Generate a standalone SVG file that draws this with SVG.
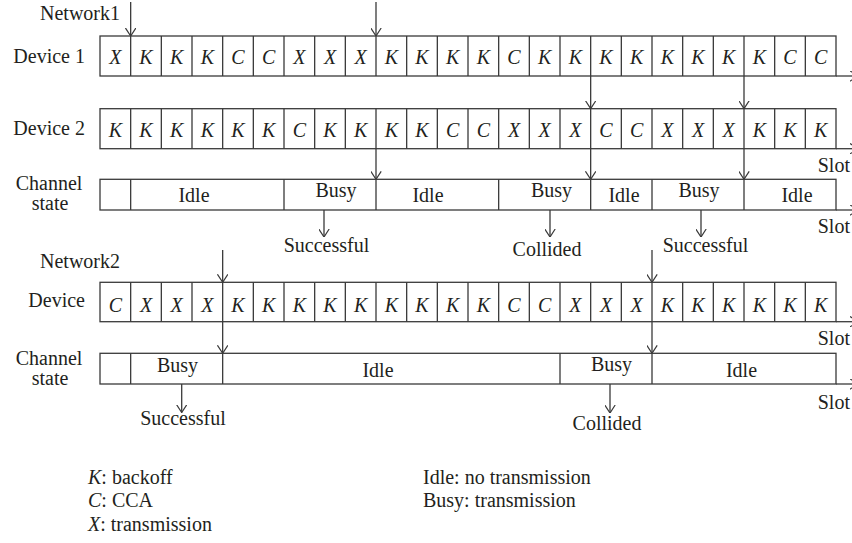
<svg xmlns="http://www.w3.org/2000/svg" width="852" height="543" viewBox="0 0 852 543">
<defs>
<marker id="arr" viewBox="0 0 8 11" refX="8" refY="5.5" markerWidth="8" markerHeight="11" markerUnits="userSpaceOnUse" orient="auto">
<path d="M0,0.3 L8,5.5 L0,10.7" fill="none" stroke="#3a3a3a" stroke-width="1.2"/>
</marker>
</defs>
<style>
text{font-family:"Liberation Serif","Times New Roman",serif;font-size:20px;fill:#231f20}
.c{text-anchor:middle;font-style:italic}
.m{text-anchor:middle}
.e{text-anchor:end}
.box{fill:#fff;stroke:#3a3a3a;stroke-width:1.3}
.div{stroke:#3a3a3a;stroke-width:1.3}
.con line{stroke:#3a3a3a;stroke-width:1.3;marker-end:url(#arr)}
</style>
<rect width="852" height="543" fill="#fff"/>

<g id="network1-label"><text x="40" y="20">Network1</text></g>

<g id="device1">
<text class="e" x="85" y="63">Device 1</text>
<rect class="box" x="100" y="36" width="736" height="40"/>
<path class="div" d="M130.67,36V76M161.33,36V76M192,36V76M222.67,36V76M253.33,36V76M284,36V76M314.67,36V76M345.33,36V76M376,36V76M406.67,36V76M437.33,36V76M468,36V76M498.67,36V76M529.33,36V76M560,36V76M590.67,36V76M621.33,36V76M652,36V76M682.67,36V76M713.33,36V76M744,36V76M774.67,36V76M805.33,36V76"/>
<g transform="translate(0,64)">
<text class="c" x="115.33">X</text><text class="c" x="146">K</text><text class="c" x="176.67">K</text><text class="c" x="207.33">K</text><text class="c" x="238">C</text><text class="c" x="268.67">C</text><text class="c" x="299.33">X</text><text class="c" x="330">X</text><text class="c" x="360.67">X</text><text class="c" x="391.33">K</text><text class="c" x="422">K</text><text class="c" x="452.67">K</text><text class="c" x="483.33">K</text><text class="c" x="514">C</text><text class="c" x="544.67">K</text><text class="c" x="575.33">K</text><text class="c" x="606">K</text><text class="c" x="636.67">K</text><text class="c" x="667.33">K</text><text class="c" x="698">K</text><text class="c" x="728.67">K</text><text class="c" x="759.33">K</text><text class="c" x="790">C</text><text class="c" x="820.67">C</text>
</g>
</g>

<g id="device2">
<text class="e" x="85" y="135">Device 2</text>
<rect class="box" x="100" y="108.7" width="736" height="40"/>
<path class="div" d="M130.67,108.7v40M161.33,108.7v40M192,108.7v40M222.67,108.7v40M253.33,108.7v40M284,108.7v40M314.67,108.7v40M345.33,108.7v40M376,108.7v40M406.67,108.7v40M437.33,108.7v40M468,108.7v40M498.67,108.7v40M529.33,108.7v40M560,108.7v40M590.67,108.7v40M621.33,108.7v40M652,108.7v40M682.67,108.7v40M713.33,108.7v40M744,108.7v40M774.67,108.7v40M805.33,108.7v40"/>
<g transform="translate(0,136.7)">
<text class="c" x="115.33">K</text><text class="c" x="146">K</text><text class="c" x="176.67">K</text><text class="c" x="207.33">K</text><text class="c" x="238">K</text><text class="c" x="268.67">K</text><text class="c" x="299.33">C</text><text class="c" x="330">K</text><text class="c" x="360.67">K</text><text class="c" x="391.33">K</text><text class="c" x="422">K</text><text class="c" x="452.67">C</text><text class="c" x="483.33">C</text><text class="c" x="514">X</text><text class="c" x="544.67">X</text><text class="c" x="575.33">X</text><text class="c" x="606">C</text><text class="c" x="636.67">C</text><text class="c" x="667.33">X</text><text class="c" x="698">X</text><text class="c" x="728.67">X</text><text class="c" x="759.33">K</text><text class="c" x="790">K</text><text class="c" x="820.67">K</text>
</g>
<text class="e" x="850" y="172">Slot</text>
</g>

<g id="channel1">
<text class="m" x="49" y="190">Channel</text>
<text class="m" x="50" y="210">state</text>
<rect class="box" x="100" y="179.3" width="736" height="30.7"/>
<path class="div" d="M130.67,179.3V210M284,179.3V210M376,179.3V210M498.67,179.3V210M590.67,179.3V210M652,179.3V210M744,179.3V210"/>
<text class="m" x="194" y="201.5">Idle</text>
<text class="m" x="336" y="196.5">Busy</text>
<text class="m" x="428" y="201.5">Idle</text>
<text class="m" x="551.5" y="196.5">Busy</text>
<text class="m" x="624" y="201.5">Idle</text>
<text class="m" x="699" y="196.5">Busy</text>
<text class="m" x="797" y="201.5">Idle</text>
<text class="e" x="850" y="233">Slot</text>
</g>

<g id="outcomes1">
<text class="m" x="326.5" y="252">Successful</text>
<text class="m" x="547" y="256">Collided</text>
<text class="m" x="705.5" y="252">Successful</text>
</g>

<g id="network2-label"><text x="40" y="268">Network2</text></g>

<g id="device-n2">
<text class="e" x="85" y="307">Device</text>
<rect class="box" x="100" y="282.3" width="736" height="39.4"/>
<path class="div" d="M130.67,282.3V321.7M161.33,282.3V321.7M192,282.3V321.7M222.67,282.3V321.7M253.33,282.3V321.7M284,282.3V321.7M314.67,282.3V321.7M345.33,282.3V321.7M376,282.3V321.7M406.67,282.3V321.7M437.33,282.3V321.7M468,282.3V321.7M498.67,282.3V321.7M529.33,282.3V321.7M560,282.3V321.7M590.67,282.3V321.7M621.33,282.3V321.7M652,282.3V321.7M682.67,282.3V321.7M713.33,282.3V321.7M744,282.3V321.7M774.67,282.3V321.7M805.33,282.3V321.7"/>
<g transform="translate(0,312)">
<text class="c" x="115.33">C</text><text class="c" x="146">X</text><text class="c" x="176.67">X</text><text class="c" x="207.33">X</text><text class="c" x="238">K</text><text class="c" x="268.67">K</text><text class="c" x="299.33">K</text><text class="c" x="330">K</text><text class="c" x="360.67">K</text><text class="c" x="391.33">K</text><text class="c" x="422">K</text><text class="c" x="452.67">K</text><text class="c" x="483.33">K</text><text class="c" x="514">C</text><text class="c" x="544.67">C</text><text class="c" x="575.33">X</text><text class="c" x="606">X</text><text class="c" x="636.67">X</text><text class="c" x="667.33">K</text><text class="c" x="698">K</text><text class="c" x="728.67">K</text><text class="c" x="759.33">K</text><text class="c" x="790">K</text><text class="c" x="820.67">K</text>
</g>
<text class="e" x="850" y="345">Slot</text>
</g>

<g id="channel2">
<text class="m" x="49" y="365">Channel</text>
<text class="m" x="50" y="385">state</text>
<rect class="box" x="100" y="353.3" width="736" height="30.7"/>
<path class="div" d="M130.67,353.3V384M222.67,353.3V384M560,353.3V384M652,353.3V384"/>
<text class="m" x="177.5" y="371.5">Busy</text>
<text class="m" x="378" y="376.5">Idle</text>
<text class="m" x="611.5" y="371">Busy</text>
<text class="m" x="741.5" y="376.5">Idle</text>
<text class="e" x="850" y="409">Slot</text>
</g>

<g id="outcomes2">
<text class="m" x="183" y="425">Successful</text>
<text class="m" x="607" y="430">Collided</text>
</g>

<g id="legend">
<text x="88" y="484"><tspan font-style="italic">K</tspan>: backoff</text>
<text x="88" y="507"><tspan font-style="italic">C</tspan>: CCA</text>
<text x="88" y="531"><tspan font-style="italic">X</tspan>: transmission</text>
<text x="423" y="484">Idle: no transmission</text>
<text x="423" y="507">Busy: transmission</text>
</g>

<g id="connectors" class="con">
<line x1="130.67" y1="2" x2="130.67" y2="36"/>
<line x1="376" y1="2" x2="376" y2="36"/>
<line x1="590.67" y1="76" x2="590.67" y2="108.7"/>
<line x1="744" y1="76" x2="744" y2="108.7"/>
<line x1="376" y1="148.7" x2="376" y2="179.3"/>
<line x1="590.67" y1="148.7" x2="590.67" y2="179.3"/>
<line x1="744" y1="148.7" x2="744" y2="179.3"/>
<line x1="324" y1="210" x2="324" y2="237"/>
<line x1="550" y1="210" x2="550" y2="237"/>
<line x1="701" y1="210" x2="701" y2="237"/>
<line x1="222.67" y1="250" x2="222.67" y2="282.3"/>
<line x1="652" y1="250" x2="652" y2="282.3"/>
<line x1="222.67" y1="321.7" x2="222.67" y2="353.3"/>
<line x1="652" y1="321.7" x2="652" y2="353.3"/>
<line x1="181.7" y1="384" x2="181.7" y2="412.5"/>
<line x1="610" y1="384" x2="610" y2="413"/>
<line x1="836" y1="76" x2="858" y2="76"/>
<line x1="836" y1="148.7" x2="858" y2="148.7"/>
<line x1="836" y1="210" x2="858" y2="210"/>
<line x1="836" y1="321.7" x2="858" y2="321.7"/>
<line x1="836" y1="384" x2="858" y2="384"/>
</g>
</svg>
